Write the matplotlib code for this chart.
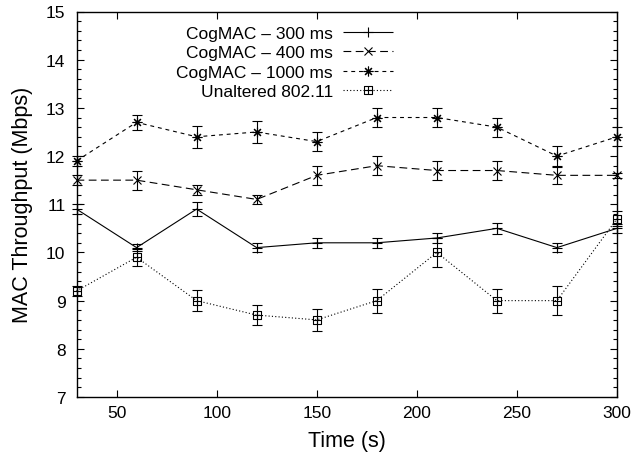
import matplotlib
matplotlib.use("Agg")
import matplotlib.pyplot as plt
from matplotlib.path import Path
from matplotlib.lines import Line2D
from matplotlib.ticker import MultipleLocator

plt.rcParams['font.family'] = ['Liberation Sans', 'DejaVu Sans']

time_s = [30, 60, 90, 120, 150, 180, 210, 240, 270, 300]

labels = ["CogMAC \u2013 300 ms", "CogMAC \u2013 400 ms", "CogMAC \u2013 1000 ms", "Unaltered 802.11"]

cog300 = [10.9, 10.1, 10.9, 10.1, 10.2, 10.2, 10.3, 10.5, 10.1, 10.5]
cog300_err = [0.1, 0.08, 0.15, 0.1, 0.1, 0.1, 0.1, 0.12, 0.1, 0.1]

cog400 = [11.5, 11.5, 11.3, 11.1, 11.6, 11.8, 11.7, 11.7, 11.6, 11.6]
cog400_err = [0.1, 0.2, 0.1, 0.1, 0.2, 0.2, 0.2, 0.2, 0.18, 0.05]

cog1000 = [11.9, 12.7, 12.4, 12.5, 12.3, 12.8, 12.8, 12.6, 12.0, 12.4]
cog1000_err = [0.1, 0.15, 0.23, 0.23, 0.2, 0.2, 0.2, 0.2, 0.2, 0.2]

wifi = [9.2, 9.9, 9.0, 8.7, 8.6, 9.0, 10.0, 9.0, 9.0, 10.7]
wifi_err = [0.1, 0.18, 0.22, 0.2, 0.23, 0.25, 0.3, 0.25, 0.3, 0.15]

# boxed plus marker
box_plus = Path(
    [(-1, -1), (1, -1), (1, 1), (-1, 1), (-1, -1), (0, -1), (0, 1), (-1, 0), (1, 0)],
    [Path.MOVETO, Path.LINETO, Path.LINETO, Path.LINETO, Path.CLOSEPOLY,
     Path.MOVETO, Path.LINETO, Path.MOVETO, Path.LINETO])

fig = plt.figure(figsize=(6.44, 4.56), dpi=100)
ax = fig.add_axes([76.5/644, 58/456, 540.5/644, 385.5/456])

series = [
    (cog300, cog300_err, '+', (0, ()), 7),
    (cog400, cog400_err, 'x', (0, (7, 4)), 6),
    (cog1000, cog1000_err, (8, 2, 0), (0, (3.5, 3.5)), 7),
    (wifi, wifi_err, box_plus, (0, (1, 2)), 6),
]

handles = []
for (vals, errs, mk, ls, ms), lab in zip(series, labels):
    ax.errorbar(time_s, vals, yerr=errs, color='black', linewidth=0.8,
                linestyle=ls, marker=mk, markersize=ms, markeredgewidth=0.8,
                markerfacecolor='none', ecolor='black', elinewidth=0.8,
                capsize=3.5, capthick=0.8, clip_on=False)
    handles.append(Line2D([], [], color='black', linewidth=0.8, linestyle=ls,
                          marker=mk, markersize=ms, markeredgewidth=0.8,
                          markerfacecolor='none', label=lab))

ax.set_xlim(30, 300)
ax.set_ylim(7, 15)
ax.xaxis.set_major_locator(MultipleLocator(50))
ax.yaxis.set_major_locator(MultipleLocator(1))
ax.yaxis.set_minor_locator(MultipleLocator(0.2))
ax.tick_params(which='both', direction='in', top=True, right=True, labelsize=12.5)
ax.tick_params(which='major', length=5, width=0.8)
ax.tick_params(which='minor', length=3, width=0.8)
ax.tick_params(axis='y', which='major', pad=8)
ax.tick_params(axis='x', which='major', pad=6)
for s in ax.spines.values():
    s.set_linewidth(1.0)

ax.set_xlabel("Time (s)", fontsize=15.5, labelpad=7)
ax.set_ylabel("MAC Throughput (Mbps)", fontsize=15.5, labelpad=9)

leg = ax.legend(handles=handles, loc='upper right',
                bbox_to_anchor=((393-76.5)/540.5, 0.963),
                frameon=False, markerfirst=False, fontsize=12.5,
                handlelength=2.9, handletextpad=0.55, labelspacing=0.25,
                borderaxespad=0.0, borderpad=0.0)

fig.savefig("out.png", dpi=100)
